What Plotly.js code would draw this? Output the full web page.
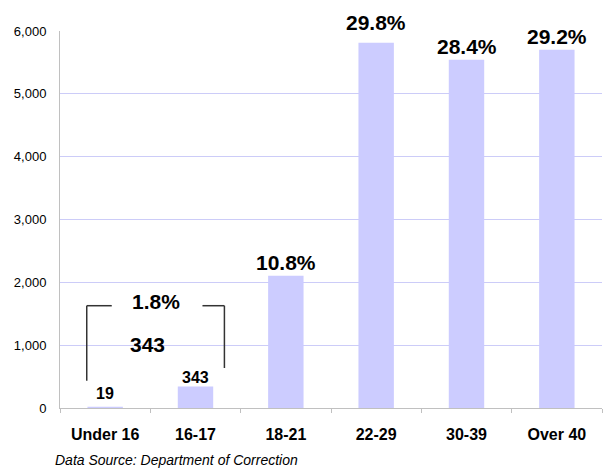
<!DOCTYPE html>
<html>
<head>
<meta charset="utf-8">
<script src="https://cdn.plot.ly/plotly-3.0.1.min.js"></script>
<style>
  html, body { margin: 0; padding: 0; background: #fff; }
  #plot { width: 603px; height: 473px; }
</style>
</head>
<body>
<div id="plot"></div>
<script>
// Data
var ageGroups = ["Under 16", "16-17", "18-21", "22-29", "30-39", "Over 40"];
var counts = [19, 343, 2106, 5814, 5543, 5702];
var pctLabels = ["", "", "10.8%", "29.8%", "28.4%", "29.2%"];
var countLabels = ["19", "343", "", "", "", ""];
var under18Pct = "1.8%";
var under18Count = "343";
var yTickVals = [0, 1000, 2000, 3000, 4000, 5000, 6000];
var yTickText = ["0", "1,000", "2,000", "3,000", "4,000", "5,000", "6,000"];

var FONT = "Liberation Sans, Arial, sans-serif";

var trace = {
    x: ageGroups,
    y: counts,
    type: "bar",
    marker: { color: "#CCCCFF", line: { width: 0 } },
    hoverinfo: "x+y"
};

var annotations = [];

// percentage labels above the big bars
pctLabels.forEach(function (t, i) {
    if (!t) return;
    annotations.push({
        x: ageGroups[i], y: counts[i], xref: "x", yref: "y",
        text: "<b>" + t + "</b>", showarrow: false,
        yanchor: "bottom", yshift: (i === 3) ? 7 : 0,
        font: { family: FONT, size: 21, color: "#000" }
    });
});

// small count labels on the two youngest groups
countLabels.forEach(function (t, i) {
    if (!t) return;
    annotations.push({
        x: ageGroups[i], y: counts[i], xref: "x", yref: "y",
        text: "<b>" + t + "</b>", showarrow: false,
        yanchor: "bottom", yshift: (i === 0) ? 3 : -2,
        font: { family: FONT, size: 16, color: "#000" }
    });
});

// bracket text: combined share of under-18s
annotations.push({
    x: 0.56, y: 1692, xref: "x", yref: "y",
    text: "<b>" + under18Pct + "</b>", showarrow: false,
    font: { family: FONT, size: 21, color: "#000" }
});
annotations.push({
    x: 0.47, y: 1012, xref: "x", yref: "y",
    text: "<b>" + under18Count + "</b>", showarrow: false,
    font: { family: FONT, size: 21, color: "#000" }
});

// source note
annotations.push({
    x: -0.012, y: -0.137, xref: "paper", yref: "paper",
    text: "<i>Data Source: Department of Correction</i>", showarrow: false,
    xanchor: "left", yanchor: "middle",
    font: { family: FONT, size: 14, color: "#000" }
});

// bracket lines
var bl = { color: "#333333", width: 1.5 };
var shapes = [
    { type: "line", xref: "x", yref: "y", x0: -0.204, x1: -0.204, y0: 434, y1: 1628, line: bl },
    { type: "line", xref: "x", yref: "y", x0: -0.204, x1: 0.073, y0: 1628, y1: 1628, line: bl },
    { type: "line", xref: "x", yref: "y", x0: 1.077, x1: 1.32, y0: 1628, y1: 1628, line: bl },
    { type: "line", xref: "x", yref: "y", x0: 1.32, x1: 1.32, y0: 637, y1: 1628, line: bl }
];

var layout = {
    width: 603,
    height: 473,
    margin: { t: 31, r: 1, l: 60, b: 65 },
    paper_bgcolor: "#ffffff",
    plot_bgcolor: "#ffffff",
    showlegend: false,
    bargap: 0.608,
    font: { family: FONT, color: "#000" },
    xaxis: {
        type: "category",
        tickfont: { family: FONT, size: 16, color: "#000", weight: "bold" },
        showline: true, linecolor: "#C0C0C0", linewidth: 1,
        ticks: "outside", tickson: "boundaries", ticklen: 4, tickcolor: "#C0C0C0",
        ticklabelstandoff: 12,
        showgrid: false, zeroline: false
    },
    yaxis: {
        range: [0, 6000],
        tickvals: yTickVals, ticktext: yTickText,
        tickfont: { family: FONT, size: 13, color: "#000" },
        showline: true, linecolor: "#C0C0C0", linewidth: 1,
        showgrid: true, gridcolor: "#CCCCF8", gridwidth: 1,
        zeroline: false, ticks: "", ticklabelstandoff: 10
    },
    annotations: annotations,
    shapes: shapes
};

Plotly.newPlot("plot", [trace], layout, { displayModeBar: false, staticPlot: true });
</script>
</body>
</html>
